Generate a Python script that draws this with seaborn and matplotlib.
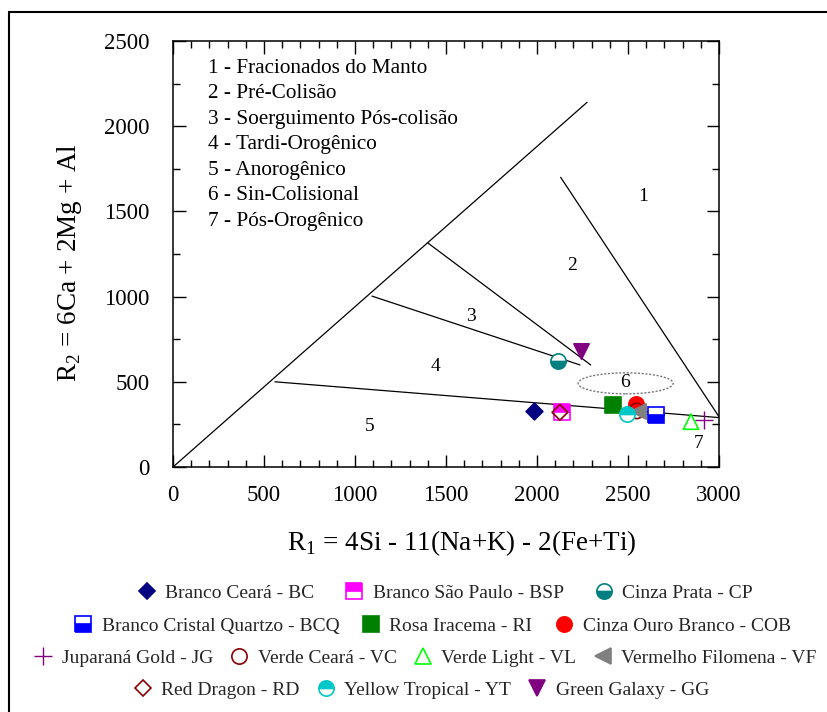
import matplotlib
matplotlib.use("Agg")
import matplotlib.pyplot as plt
from matplotlib.lines import Line2D
from matplotlib.patches import Ellipse, Rectangle
from matplotlib.ticker import MultipleLocator
import seaborn as sns

# ---- sample data (R1, R2 millications) ----
codes = ["BC", "BSP", "CP", "BCQ", "RI", "COB", "JG", "VC", "VL", "VF", "RD", "YT", "GG"]
names = ["Branco Ceará - BC", "Branco São Paulo - BSP", "Cinza Prata - CP",
         "Branco Cristal Quartzo - BCQ", "Rosa Iracema - RI", "Cinza Ouro Branco - COB",
         "Juparaná Gold - JG", "Verde Ceará - VC", "Verde Light - VL", "Vermelho Filomena - VF",
         "Red Dragon - RD", "Yellow Tropical - YT", "Green Galaxy - GG"]
r1 = [1985, 2140, 2117, 2652, 2420, 2545, 2918, 2548, 2846, 2556, 2126, 2493, 2242]
r2 = [329, 325, 622, 305, 364, 370, 276, 329, 266, 329, 321, 311, 683]

# ---- field boundaries of the R1-R2 diagram ----
boundary_x = [[0, 2275], [2130, 3000], [1400, 2295], [1093, 2236], [560, 3000]]
boundary_y = [[0, 2140], [1700, 295], [1315, 599], [1003, 599], [500, 290]]
field_ids = ["1", "2", "3", "4", "5", "6", "7"]
field_x = [2582, 2192, 1637, 1440, 1082, 2484, 2890]
field_y = [1590, 1185, 886, 587, 235, 493, 135]
field_names = ["1 - Fracionados do Manto", "2 - Pré-Colisão", "3 - Soerguimento Pós-colisão",
               "4 - Tardi-Orogênico", "5 - Anorogênico", "6 - Sin-Colisional",
               "7 - Pós-Orogênico"]

x_ticks = [0, 500, 1000, 1500, 2000, 2500, 3000]
y_ticks = [0, 500, 1000, 1500, 2000, 2500]

# ---- marker styles per sample ----
styles = {
    "BC":  dict(marker="D", ms=8.5, mfc="#000080", mec="#000080"),
    "BSP": dict(marker="s", ms=11, mfc="#ff00ff", mec="#ff00ff", fillstyle="top"),
    "CP":  dict(marker="o", ms=11, mfc="#008080", mec="#008080", fillstyle="bottom"),
    "BCQ": dict(marker="s", ms=11, mfc="#0000ff", mec="#0000ff", fillstyle="bottom"),
    "RI":  dict(marker="s", ms=11, mfc="#008000", mec="#008000"),
    "COB": dict(marker="o", ms=11, mfc="#ff0000", mec="#ff0000"),
    "JG":  dict(marker="+", ms=13, mfc="#800080", mec="#800080"),
    "VC":  dict(marker="o", ms=11, mfc="none", mec="#8b0000"),
    "VL":  dict(marker="^", ms=11, mfc="none", mec="#00ff00"),
    "VF":  dict(marker="<", ms=11, mfc="#808080", mec="#808080"),
    "RD":  dict(marker="D", ms=8, mfc="none", mec="#8b0000"),
    "YT":  dict(marker="o", ms=11, mfc="#00c8c8", mec="#00c8c8", fillstyle="top"),
    "GG":  dict(marker="v", ms=11, mfc="#800080", mec="#800080"),
}
draw_order = ["BC", "BSP", "RD", "CP", "GG", "RI", "COB", "VC", "VF", "YT", "BCQ", "VL", "JG"]
legend_rows = [["BC", "BSP", "CP"], ["BCQ", "RI", "COB"], ["JG", "VC", "VL", "VF"],
               ["RD", "YT", "GG"]]

sns.set_theme(style="ticks")
plt.rcParams["font.family"] = ["Liberation Serif", "DejaVu Serif"]
plt.rcParams["mathtext.fontset"] = "custom"
plt.rcParams["mathtext.rm"] = "Liberation Serif"

fig = plt.figure(figsize=(8.28, 7.12), dpi=100)
ax = fig.add_axes([173 / 828, 1 - 467 / 712, 546 / 828, 426 / 712])

for bx, by in zip(boundary_x, boundary_y):
    sns.lineplot(x=bx, y=by, sort=False, estimator=None, color="black", lw=0.9, ax=ax)

ax.add_patch(Ellipse((2487, 491), 522, 123, fill=False, ec="#777777", ls=(0, (1.5, 1.2)), lw=1.0))

for t, fx, fy in zip(field_ids, field_x, field_y):
    ax.text(fx, fy, t, ha="center", va="center", fontsize=14, color="black")

for i, label in enumerate(field_names):
    ax.text(0.064, (467 - (68.5 + 25.5 * i)) / 426, label, transform=ax.transAxes,
            ha="left", va="center", fontsize=15.3, color="black")


def handle(code):
    st = styles[code]
    return Line2D([], [], linestyle="none", marker=st["marker"], markersize=st["ms"],
                  markerfacecolor=st["mfc"], markeredgecolor=st["mec"],
                  fillstyle=st.get("fillstyle", "full"), markerfacecoloralt="white",
                  markeredgewidth=1.2 if st["marker"] != "+" else 1.0)


for z, code in enumerate(draw_order):
    i = codes.index(code)
    st = styles[code]
    if "fillstyle" in st:
        ax.plot([r1[i]], [r2[i]], linestyle="none", marker=st["marker"], markersize=st["ms"],
                markerfacecolor=st["mfc"], markeredgecolor=st["mec"],
                fillstyle=st["fillstyle"], markerfacecoloralt="white",
                markeredgewidth=1.2, zorder=3 + z * 0.01, clip_on=False)
    elif st["marker"] == "+":
        sns.scatterplot(x=[r1[i]], y=[r2[i]], marker="+", s=st["ms"] ** 2, color=st["mec"],
                        linewidth=1.0, ax=ax, legend=False, zorder=3 + z * 0.01, clip_on=False)
    else:
        sns.scatterplot(x=[r1[i]], y=[r2[i]], marker=st["marker"], s=st["ms"] ** 2,
                        color=st["mec"], facecolor=st["mfc"], edgecolor=st["mec"],
                        linewidth=1.2, ax=ax, legend=False, zorder=3 + z * 0.01, clip_on=False)

ax.set_xlim(0, 3000)
ax.set_ylim(0, 2500)
ax.set_xticks(x_ticks)
ax.set_yticks(y_ticks)
ax.xaxis.set_minor_locator(MultipleLocator(100))
ax.yaxis.set_minor_locator(MultipleLocator(250))
ax.tick_params(which="both", direction="in", top=True, right=True, colors="black",
               width=1.0)
ax.tick_params(which="major", length=9)
ax.tick_params(which="minor", length=5)
ax.tick_params(axis="x", which="major", labelsize=16.5, pad=13)
ax.tick_params(axis="y", which="major", labelsize=16.5, pad=17)
for sp in ax.spines.values():
    sp.set_visible(True)
    sp.set_color("black")
    sp.set_linewidth(1.1)

ax.set_xlabel(r"R$_\mathregular{1}$ = 4Si - 11(Na+K) - 2(Fe+Ti)", fontsize=19.5, color="black")
ax.xaxis.set_label_coords((462 - 173) / 546, (467 - 528) / 426)
ax.set_ylabel(r"R$_\mathregular{2}$ = 6Ca + 2Mg + Al", fontsize=19.5, color="black")
ax.yaxis.set_label_coords((84 - 173) / 546, 0.48)

row_y = [593, 626, 658, 690]
row_cx = [445, 432, 425, 421]
row_gap = [1.55, 1.13, 0.85, 0.85]
for row, yy, cx, gap in zip(legend_rows, row_y, row_cx, row_gap):
    leg = fig.legend([handle(c) for c in row], [names[codes.index(c)] for c in row],
                     loc="center", bbox_to_anchor=(cx / 828, 1 - yy / 712), ncol=len(row),
                     frameon=False, borderpad=0, fontsize=14, handlelength=1.0,
                     handletextpad=0.45, columnspacing=gap, borderaxespad=0)

fig.patches.append(Rectangle((8.5 / 828, -0.2), 1.2, 1.2 - 12.3 / 712,
                             transform=fig.transFigure, fill=False, ec="black", lw=1.5))

fig.savefig("out.png", dpi=100)
